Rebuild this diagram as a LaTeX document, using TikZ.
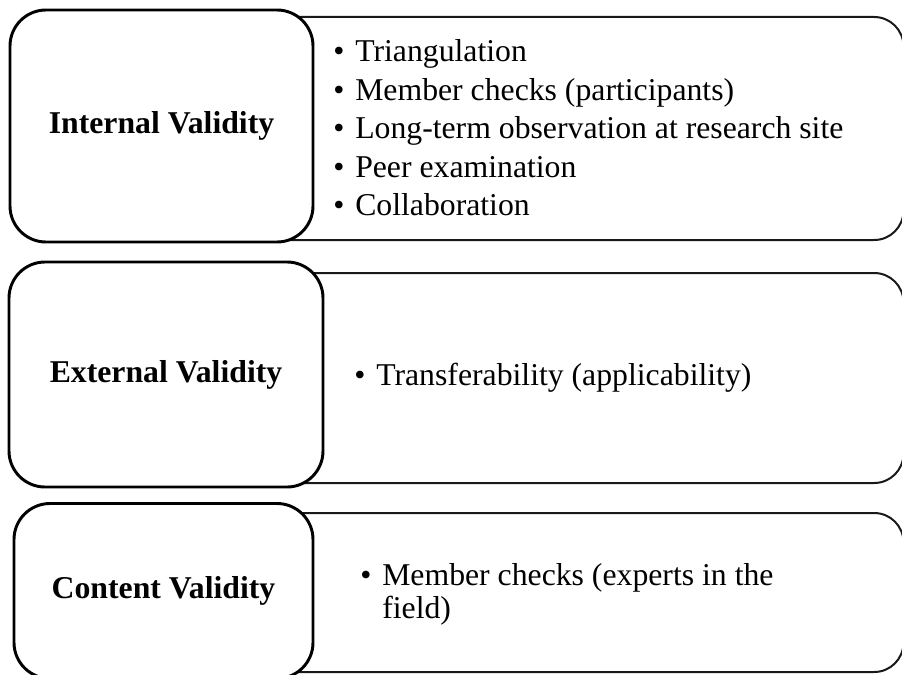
\documentclass[tikz,border=0pt]{standalone}
\usepackage{fontspec}
\setmainfont{Liberation Serif}
\usetikzlibrary{positioning}

% bullet with a fixed hanging width
\newcommand{\bul}[1]{\makebox[16.5pt][l]{\textbullet}#1}
\newcommand{\hang}{\hspace*{16.5pt}}

\begin{document}
\begin{tikzpicture}[x=0.75pt,y=-0.75pt,
  headbox/.style={draw=black, line width=2.2pt, fill=white, rounded corners=27pt,
    font=\fontsize{23.8}{28}\selectfont\bfseries, align=center},
  listbox/.style={draw=black!90, line width=1.5pt, fill=white, rounded corners=22pt},
  items/.style={inner sep=0pt, align=left, anchor=west,
    font=\fontsize{23.8}{24.75}\selectfont}]
\useasboundingbox (0,0) rectangle (902,674);
\clip (0,0) rectangle (902,674);

% internal validity
\node[listbox, minimum width=557.6pt, minimum height=167.25pt] (intlist) at (531.75,128.5) {};
\node[headbox, minimum width=227.25pt, minimum height=174pt] (int) at (161.5,126) {Internal Validity};
\node[items] (intitems) at (333,128) {\bul{Triangulation}\\[4.1pt]
  \bul{Member checks (participants)}\\[4.1pt]
  \bul{Long-term observation at research site}\\[4.1pt]
  \bul{Peer examination}\\[4.1pt]
  \bul{Collaboration}};

% external validity
\node[listbox, minimum width=557.6pt, minimum height=157.5pt] (extlist) at (531.75,378) {};
\node[headbox, minimum width=235.5pt, minimum height=168.75pt] (ext) at (166,374.5) {External Validity};
\node[items] (extitems) at (354,378) {\bul{Transferability (applicability)}};

% content validity
\node[listbox, minimum width=557.6pt, minimum height=119.25pt] (conlist) at (531.75,592.5) {};
\node[headbox, minimum width=224.25pt, minimum height=131.25pt] (con) at (163.5,591) {Content Validity};
\node[items] (conitems) at (360,594) {\bul{Member checks (experts in the}\\
  \hang field)};
\end{tikzpicture}
\end{document}
